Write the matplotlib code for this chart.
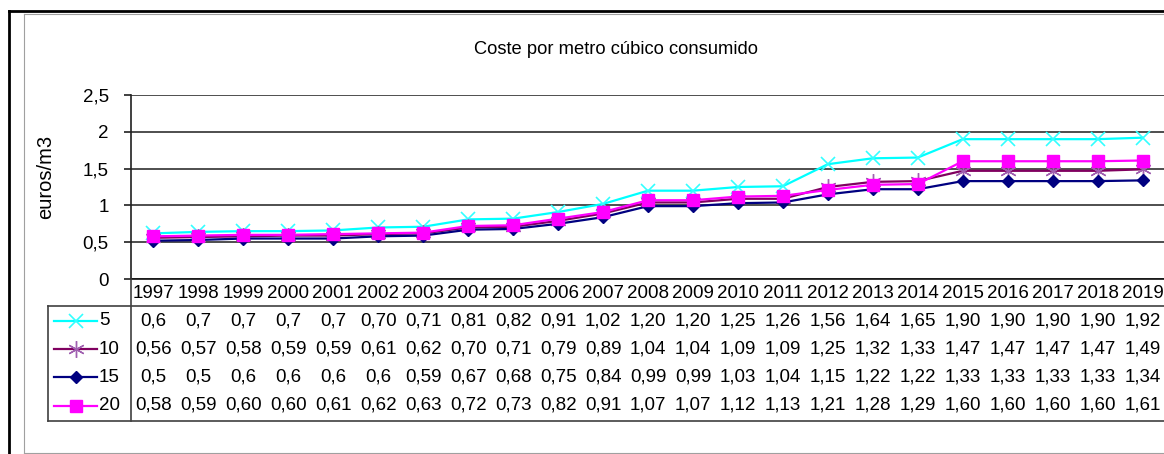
import matplotlib
matplotlib.use("Agg")
import matplotlib.pyplot as plt
from matplotlib.lines import Line2D
from matplotlib.transforms import blended_transform_factory

plt.rcParams['font.family'] = ['Liberation Sans', 'DejaVu Sans']

years = ['1997', '1998', '1999', '2000', '2001', '2002', '2003', '2004', '2005', '2006', '2007',
         '2008', '2009', '2010', '2011', '2012', '2013', '2014', '2015', '2016', '2017', '2018', '2019']
series_names = ['5', '10', '15', '20']
s5 = [0.62, 0.64, 0.65, 0.65, 0.66, 0.70, 0.71, 0.81, 0.82, 0.91, 1.02, 1.20, 1.20, 1.25, 1.26, 1.56, 1.64, 1.65, 1.90, 1.90, 1.90, 1.90, 1.92]
s10 = [0.56, 0.57, 0.58, 0.59, 0.59, 0.61, 0.62, 0.70, 0.71, 0.79, 0.89, 1.04, 1.04, 1.09, 1.09, 1.25, 1.32, 1.33, 1.47, 1.47, 1.47, 1.47, 1.49]
s15 = [0.52, 0.53, 0.55, 0.55, 0.55, 0.58, 0.59, 0.67, 0.68, 0.75, 0.84, 0.99, 0.99, 1.03, 1.04, 1.15, 1.22, 1.22, 1.33, 1.33, 1.33, 1.33, 1.34]
s20 = [0.58, 0.59, 0.60, 0.60, 0.61, 0.62, 0.63, 0.72, 0.73, 0.82, 0.91, 1.07, 1.07, 1.12, 1.13, 1.21, 1.28, 1.29, 1.60, 1.60, 1.60, 1.60, 1.61]
# text shown in the data table
t5 = ['0,6', '0,7', '0,7', '0,7', '0,7', '0,70', '0,71', '0,81', '0,82', '0,91', '1,02', '1,20', '1,20', '1,25', '1,26', '1,56', '1,64', '1,65', '1,90', '1,90', '1,90', '1,90', '1,92']
t10 = ['0,56', '0,57', '0,58', '0,59', '0,59', '0,61', '0,62', '0,70', '0,71', '0,79', '0,89', '1,04', '1,04', '1,09', '1,09', '1,25', '1,32', '1,33', '1,47', '1,47', '1,47', '1,47', '1,49']
t15 = ['0,5', '0,5', '0,6', '0,6', '0,6', '0,6', '0,59', '0,67', '0,68', '0,75', '0,84', '0,99', '0,99', '1,03', '1,04', '1,15', '1,22', '1,22', '1,33', '1,33', '1,33', '1,33', '1,34']
t20 = ['0,58', '0,59', '0,60', '0,60', '0,61', '0,62', '0,63', '0,72', '0,73', '0,82', '0,91', '1,07', '1,07', '1,12', '1,13', '1,21', '1,28', '1,29', '1,60', '1,60', '1,60', '1,60', '1,61']
yticks = [0, 0.5, 1, 1.5, 2, 2.5]
ytick_labels = ['0', '0,5', '1', '1,5', '2', '2,5']

W, H = 1164, 454
fig = plt.figure(figsize=(W / 100, H / 100), dpi=100)
fx = lambda px: px / W
fy = lambda py: 1 - py / H

AX_L, AX_R = 131, 1165
ax = fig.add_axes([fx(AX_L), fy(279), fx(AX_R) - fx(AX_L), fy(95) - fy(279)])

styles = [
    dict(color='#00FFFF', marker='x', ms=10, mew=1.2, mec='#33FFFF', mfc='none'),
    dict(color='#800060', marker=(6, 2, 0), ms=12, mew=1.0, mec='#a060b0', mfc='none'),
    dict(color='#000080', marker='D', ms=6, mew=1.0, mec='#000080', mfc='#000080'),
    dict(color='#FF00FF', marker='s', ms=8, mew=1.0, mec='#FF00FF', mfc='#FF00FF'),
]
data = [s5, s10, s15, s20]
texts = [t5, t10, t15, t20]
x = list(range(len(years)))
for vals, st in zip(data, styles):
    ax.plot(x, vals, lw=1.6, zorder=3, clip_on=False, **st)

ax.set_xlim(-0.5, len(years) - 0.5)
ax.set_ylim(0, 2.5)
ax.set_yticks(yticks)
ax.set_yticklabels(ytick_labels)
ax.yaxis.grid(True, color='#404040', lw=1.3)
ax.set_axisbelow(True)
for sp in ['top', 'right']:
    ax.spines[sp].set_visible(False)
ax.spines['left'].set_color('#202020')
ax.spines['bottom'].set_color('#101010')
ax.spines['left'].set_linewidth(1.2)
ax.spines['bottom'].set_linewidth(1.2)
ax.tick_params(axis='y', length=5, width=1.2, pad=11, labelsize=13.5, color='#202020')
ax.set_xticks(x)
ax.set_xticklabels(years)
ax.tick_params(axis='x', length=0, pad=4, labelsize=13.5)
ax.set_ylabel('euros/m3', fontsize=14.5)
ax.yaxis.set_label_coords((55 - AX_L) / (AX_R - AX_L), 0.556)

fig.text(fx(616), fy(49), 'Coste por metro cúbico consumido', ha='center', va='center', fontsize=13.2)

# data table
tr = blended_transform_factory(ax.transData, fig.transFigure)
row_y = [320.5, 349, 377, 405.5]
for ry, tv in zip(row_y, texts):
    for xi, t in zip(x, tv):
        fig.text(xi, fy(ry), t, transform=tr, ha='center', va='center', fontsize=13.5)

for ry, name, st in zip(row_y, series_names, styles):
    fig.add_artist(Line2D([fx(54), fx(97)], [fy(ry), fy(ry)], transform=fig.transFigure,
                          lw=1.6, **st, markevery=[]))
    fig.add_artist(Line2D([fx(76)], [fy(ry)], transform=fig.transFigure, lw=0, **st))
    fig.text(fx(99), fy(ry), name, ha='left', va='center', fontsize=13.5)

tc = '#404040'
fig.add_artist(Line2D([fx(48), fx(1164)], [fy(306), fy(306)], transform=fig.transFigure, color=tc, lw=1.2))
fig.add_artist(Line2D([fx(48), fx(1164)], [fy(421), fy(421)], transform=fig.transFigure, color=tc, lw=1.2))
fig.add_artist(Line2D([fx(48), fx(48)], [fy(306), fy(421)], transform=fig.transFigure, color=tc, lw=1.2))
fig.add_artist(Line2D([fx(131), fx(131)], [fy(279), fy(421)], transform=fig.transFigure, color=tc, lw=1.2))

# chart borders
fig.add_artist(Line2D([fx(9), fx(1164)], [fy(11), fy(11)], transform=fig.transFigure, color='black', lw=2))
fig.add_artist(Line2D([fx(9), fx(9)], [fy(11), fy(454)], transform=fig.transFigure, color='black', lw=2))
fig.add_artist(Line2D([fx(23.5), fx(1164)], [fy(14), fy(14)], transform=fig.transFigure, color='#a0a0a0', lw=0.8))
fig.add_artist(Line2D([fx(23.5), fx(23.5)], [fy(14), fy(453)], transform=fig.transFigure, color='#a0a0a0', lw=0.8))
fig.add_artist(Line2D([fx(23.5), fx(1164)], [fy(453), fy(453)], transform=fig.transFigure, color='#a0a0a0', lw=0.8))

fig.savefig('out.png', dpi=100)
